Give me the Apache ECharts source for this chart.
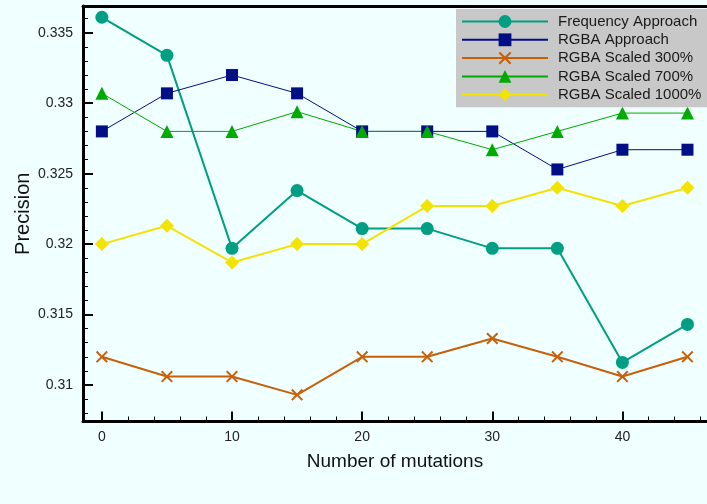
<!DOCTYPE html>
<html>
<head>
<meta charset="utf-8">
<script src="https://cdn.jsdelivr.net/npm/echarts@6/dist/echarts.min.js"></script>
<style>
  html, body { margin: 0; padding: 0; background: #F0FFFF; }
  #chart { width: 707px; height: 504px; }
</style>
</head>
<body>
<div id="chart"></div>
<script>
// Number of mutations (x) and precision of each approach (y)
const mutations = [0, 5, 10, 15, 20, 25, 30, 35, 40, 45];
const frequencyApproach = [0.3361, 0.3334, 0.3197, 0.3238, 0.3211, 0.3211, 0.3197, 0.3197, 0.3116, 0.3143];
const rgbaApproach      = [0.3280, 0.3307, 0.3320, 0.3307, 0.3280, 0.3280, 0.3280, 0.3253, 0.3267, 0.3267];
const rgbaScaled300     = [0.3120, 0.3106, 0.3106, 0.3093, 0.3120, 0.3120, 0.3133, 0.3120, 0.3106, 0.3120];
const rgbaScaled700     = [0.3307, 0.3280, 0.3280, 0.3294, 0.3280, 0.3280, 0.3267, 0.3280, 0.3293, 0.3293];
const rgbaScaled1000    = [0.3200, 0.3213, 0.3187, 0.3200, 0.3200, 0.3227, 0.3227, 0.3240, 0.3227, 0.3240];

const xMajorTicks = [0, 10, 20, 30, 40];
const xMinorTicks = [2, 4, 6, 8, 12, 14, 16, 18, 22, 24, 26, 28, 32, 34, 36, 38, 42, 44, 46];
const yMajorTicks = [0.31, 0.315, 0.32, 0.325, 0.33, 0.335];
const yMinorTicks = [0.308, 0.309, 0.311, 0.312, 0.313, 0.314, 0.316, 0.317, 0.318, 0.319,
                     0.321, 0.322, 0.323, 0.324, 0.326, 0.327, 0.328, 0.329, 0.331, 0.332,
                     0.333, 0.334, 0.336];

const X_MIN = -1.45, X_MAX = 46.5;
const Y_MIN = 0.30741, Y_MAX = 0.33690;
const FONT = '"Liberation Sans", Arial, Helvetica, sans-serif';

const crossPath = 'path://M0,1.4L1.4,0L6,4.6L10.6,0L12,1.4L7.4,6L12,10.6L10.6,12L6,7.4L1.4,12L0,10.6L4.6,6Z';

function pairs(values) {
  return mutations.map((m, i) => [m, values[i]]);
}

function series(name, values, color, width, symbol, size) {
  return {
    name: name,
    type: 'line',
    data: pairs(values),
    symbol: symbol,
    symbolSize: size,
    showAllSymbol: true,
    color: color,
    lineStyle: { color: color, width: width },
    itemStyle: { color: color },
    emphasis: { disabled: true },
    z: 3
  };
}

const chart = echarts.init(document.getElementById('chart'), null, { renderer: 'canvas' });

const hiddenAxisLabel = { show: false };
const frameLine = { show: true, onZero: false, lineStyle: { color: '#000', width: 3 } };

chart.setOption({
  backgroundColor: '#F0FFFF',
  animation: false,
  grid: { left: 83, top: 6, width: 628, height: 415.5, containLabel: false },
  legend: {
    orient: 'vertical',
    left: 456,
    top: 9,
    backgroundColor: '#C8C8C8',
    padding: [5, 30, 5, 5],
    itemWidth: 86,
    itemHeight: 16,
    itemGap: 3.3,
    textStyle: { fontFamily: FONT, fontSize: 15, color: '#1a1a1a', padding: [0, 0, 0, 5] },
    data: ['Frequency Approach', 'RGBA Approach', 'RGBA Scaled 300%', 'RGBA Scaled 700%', 'RGBA Scaled 1000%']
  },
  xAxis: [
    {
      type: 'value', min: X_MIN, max: X_MAX, position: 'bottom',
      name: 'Number of mutations', nameLocation: 'middle', nameGap: 31, nameMoveOverlap: false,
      nameTextStyle: { fontFamily: FONT, fontSize: 19, color: '#111' },
      axisLine: frameLine,
      axisTick: { show: true, inside: true, length: 10, customValues: xMajorTicks, lineStyle: { color: '#000', width: 2 } },
      axisLabel: { show: true, customValues: xMajorTicks, margin: 9, fontFamily: FONT, fontSize: 14, color: '#222' },
      splitLine: { show: false }
    },
    {
      type: 'value', min: X_MIN, max: X_MAX, position: 'bottom',
      axisLine: { show: false, onZero: false },
      axisTick: { show: true, inside: true, length: 5, customValues: xMinorTicks, lineStyle: { color: '#000', width: 1 } },
      axisLabel: hiddenAxisLabel,
      splitLine: { show: false }
    },
    {
      type: 'value', min: X_MIN, max: X_MAX, position: 'top',
      axisLine: frameLine,
      axisTick: { show: false },
      axisLabel: hiddenAxisLabel,
      splitLine: { show: false }
    }
  ],
  yAxis: [
    {
      type: 'value', min: Y_MIN, max: Y_MAX, position: 'left',
      name: 'Precision', nameLocation: 'middle', nameGap: 50, nameMoveOverlap: false,
      nameTextStyle: { fontFamily: FONT, fontSize: 20, color: '#111' },
      axisLine: frameLine,
      axisTick: { show: true, inside: true, length: 10, customValues: yMajorTicks, lineStyle: { color: '#000', width: 2 } },
      axisLabel: {
        show: true, customValues: yMajorTicks, margin: 10, fontFamily: FONT, fontSize: 14, color: '#222',
        formatter: v => String(parseFloat(v.toFixed(3)))
      },
      splitLine: { show: false }
    },
    {
      type: 'value', min: Y_MIN, max: Y_MAX, position: 'left',
      axisLine: { show: false, onZero: false },
      axisTick: { show: true, inside: true, length: 5, customValues: yMinorTicks, lineStyle: { color: '#000', width: 1 } },
      axisLabel: hiddenAxisLabel,
      splitLine: { show: false }
    }
  ],
  series: [
    series('Frequency Approach', frequencyApproach, '#009E82', 2, 'circle', 13),
    series('RGBA Approach', rgbaApproach, '#000F85', 1, 'rect', 12),
    series('RGBA Scaled 300%', rgbaScaled300, '#C8600A', 2, crossPath, 12),
    series('RGBA Scaled 700%', rgbaScaled700, '#00AA00', 1, 'triangle', 13),
    series('RGBA Scaled 1000%', rgbaScaled1000, '#F2E300', 2, 'diamond', 14)
  ]
});
</script>
</body>
</html>
